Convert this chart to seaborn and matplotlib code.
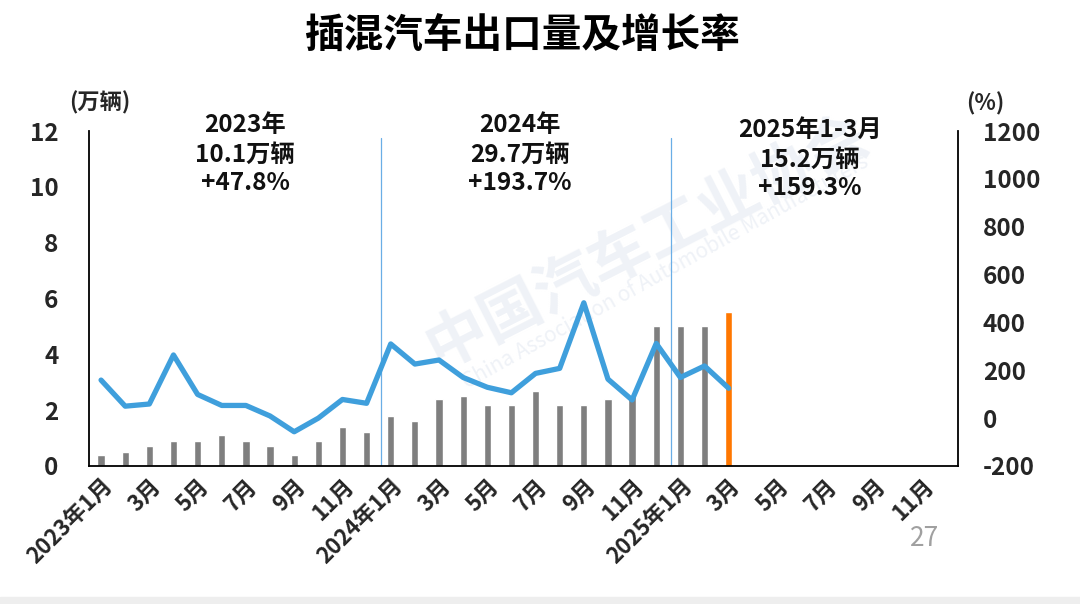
import numpy as np
import pandas as pd
import matplotlib
matplotlib.use("Agg")
import matplotlib.pyplot as plt
from matplotlib.patches import Rectangle
import seaborn as sns

# ---------------- data ----------------
years = ["2023", "2024", "2025"]
month_nums = list(range(1, 13))
export_volume = [0.4, 0.5, 0.7, 0.9, 0.9, 1.1, 0.9, 0.7, 0.4, 0.9, 1.4, 1.2,
                 1.8, 1.6, 2.4, 2.5, 2.2, 2.2, 2.7, 2.2, 2.2, 2.4, 2.5, 5.0,
                 5.0, 5.0, 5.5]
growth_rate = [159, 50, 59, 264, 99, 53, 53, 9, -57, 0, 78, 62,
               310, 226, 243, 170, 129, 106, 187, 208, 482, 163, 76, 312,
               170, 218, 125]
annot_titles = ["2023年", "2024年", "2025年1-3月"]
annot_volumes = ["10.1万辆", "29.7万辆", "15.2万辆"]
annot_growth = ["+47.8%", "+193.7%", "+159.3%"]
title_text = "插混汽车出口量及增长率"
left_unit = "(万辆)"
right_unit = "(%)"
left_ticks = [0, 2, 4, 6, 8, 10, 12]
right_ticks = [-200, 0, 200, 400, 600, 800, 1000, 1200]
page_number = "27"

# ---------------- build tables ----------------
all_months = [f"{y}-{m:02d}" for y in years for m in month_nums]
df = pd.DataFrame({
    "month": all_months[:len(export_volume)],
    "volume": export_volume,
})
df["kind"] = ["hist"] * (len(export_volume) - 1) + ["current"]
tick_labels = []
for y in years:
    for m in month_nums:
        if m % 2 == 1:
            tick_labels.append(f"{y}年{m}月" if m == 1 else f"{m}月")

# ---------------- style ----------------
sns.set_style("white")
plt.rcParams["font.family"] = ["Noto Sans CJK SC", "DejaVu Sans"]
plt.rcParams["font.weight"] = "bold"

fig = plt.figure(figsize=(10.8, 6.04), dpi=100)

# faint watermark (behind the axes)
wm = "#EFF2F7"
fig.text(0.385, 0.60, "中国汽车工业协会", rotation=27, fontsize=44, color=wm,
         ha="left", va="center", zorder=0, fontweight="bold")
fig.text(0.425, 0.55, "China Association of Automobile Manufacturers", rotation=29,
         fontsize=15, color=wm, ha="left", va="center", zorder=0, fontweight="normal")

ax = fig.add_axes([0.0824, 0.2285, 0.8046, 0.5546])
ax.set_zorder(2)
ax.patch.set_alpha(0)

GRAY = "#7F7F7F"
ORANGE = "#FF7700"
BLUE = "#3F9FDC"
SEP = "#6AAEE6"

sns.barplot(data=df, x="month", y="volume", hue="kind", order=all_months,
            palette={"hist": GRAY, "current": ORANGE}, width=0.3,
            dodge=False, legend=False, ax=ax, saturation=1, zorder=2)

ax.set_xlim(-0.5, len(all_months) - 0.5)
ax.set_ylim(0, 12)
ax.set_yticks(left_ticks)
ax.set_yticklabels([str(t) for t in left_ticks], fontsize=17.5, fontweight="bold")
ax.set_xticks(range(0, len(all_months), 2))
ax.set_xticklabels(tick_labels, rotation=45, ha="right", rotation_mode="anchor",
                   fontsize=16, fontweight="bold")
ax.tick_params(axis="y", length=0, pad=22)
ax.tick_params(axis="x", length=0, pad=6)
ax.set_xlabel("")
ax.set_ylabel("")

# separators between years
for xs in [11.6, 23.6]:
    ax.plot([xs, xs], [0, 11.75], color=SEP, lw=0.9, zorder=1)

ax2 = ax.twinx()
ax2.set_zorder(3)
ax2.patch.set_alpha(0)
sns.lineplot(x=np.arange(len(growth_rate)), y=growth_rate, ax=ax2, color=BLUE,
             lw=3.8, zorder=3)
ax2.set_ylim(-200, 1200)
ax2.set_yticks(right_ticks)
ax2.set_yticklabels([str(t) for t in right_ticks], fontsize=17.5, fontweight="bold")
ax2.tick_params(axis="y", length=0, pad=18)
ax2.set_xlim(-0.5, len(all_months) - 0.5)

for a in (ax, ax2):
    a.spines["top"].set_visible(False)
    for s in ("left", "right", "bottom"):
        a.spines[s].set_color("black")
        a.spines[s].set_linewidth(1.3)
ax.spines["right"].set_visible(False)
ax2.spines["left"].set_visible(False)
ax2.spines["bottom"].set_visible(False)

# annotations
ann_x = [0.1795, 0.496, 0.830]
ann_dy = [0.0, 0.0, -0.015]
for xa, dy, t1, t2, t3 in zip(ann_x, ann_dy, annot_titles, annot_volumes, annot_growth):
    for yy, t in zip([1.018, 0.93, 0.845], [t1, t2, t3]):
        ax.text(xa, yy + dy, t, transform=ax.transAxes, ha="center", va="center",
                fontsize=17.5, fontweight="bold", color="#111111")

fig.text(522 / 1080, 1 - 36 / 604, title_text, ha="center", va="center",
         fontsize=28.5, fontweight="bold", color="black", zorder=5)
fig.text(100 / 1080, 1 - 103 / 604, left_unit, ha="center", va="center",
         fontsize=16, fontweight="bold", zorder=5)
fig.text(985 / 1080, 1 - 104 / 604, right_unit, ha="center", va="center",
         fontsize=16, fontweight="bold", zorder=5)
fig.text(925 / 1080, 1 - 538 / 604, page_number, ha="center", va="center",
         fontsize=19, fontweight="normal", color="#A0A0A0", zorder=5)

fig.patches.append(Rectangle((0, 0), 1, 0.012, transform=fig.transFigure,
                             color="#EEEEEE", zorder=0))

fig.savefig("out.png", dpi=100)
